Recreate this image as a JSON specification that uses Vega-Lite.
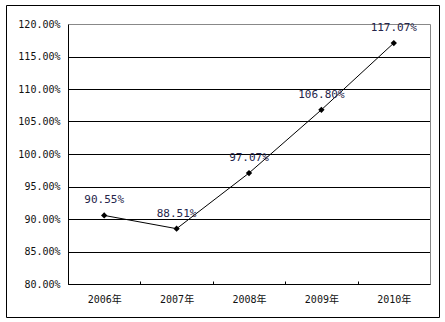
{
  "$schema": "https://vega.github.io/schema/vega-lite/v6.json",
  "width": 433,
  "height": 312,
  "autosize": {"type": "none"},
  "padding": {"left": 6, "top": 5, "right": 6, "bottom": 5},
  "background": "white",
  "config": {
    "view": {"stroke": "black", "strokeWidth": 1},
    "axis": {"labelFont": "DejaVu Sans Mono, Noto Sans CJK SC", "labelFontSize": 10, "labelColor": "#111111"}
  },
  "data": {
    "values": [
      {"year": "2006年", "v": 0.9055},
      {"year": "2007年", "v": 0.8851},
      {"year": "2008年", "v": 0.9707},
      {"year": "2009年", "v": 1.068},
      {"year": "2010年", "v": 1.1707}
    ]
  },
  "encoding": {
    "x": {
      "field": "year", "type": "nominal", "sort": null,
      "scale": {"type": "band", "range": [62, 424], "paddingInner": 0, "paddingOuter": 0},
      "axis": {"orient": "bottom", "offset": -33, "title": null, "labelAngle": 0, "tickBand": "extent", "tickSize": -3, "tickColor": "black", "domainColor": "black", "labelPadding": 13, "grid": false}
    }
  },
  "layer": [
    {
      "mark": {"type": "line", "color": "black", "strokeWidth": 1},
      "encoding": {
        "y": {
          "field": "v", "type": "quantitative",
          "scale": {"domain": [0.8, 1.2], "range": [279, 19], "nice": false, "zero": false},
          "axis": {"orient": "left", "offset": -62, "title": null, "values": [0.8, 0.85, 0.9, 0.95, 1.0, 1.05, 1.1, 1.15, 1.2], "format": ".2%", "ticks": false, "tickSize": 0, "labelPadding": 8, "domainColor": "black", "grid": true, "gridColor": {"condition": {"test": "datum.value >= 1.199", "value": "#888888"}, "value": "black"}, "gridOpacity": 1}
        }
      }
    },
    {
      "mark": {"type": "point", "shape": "diamond", "filled": true, "color": "black", "size": 40, "opacity": 1},
      "encoding": {
        "y": {"field": "v", "type": "quantitative", "axis": null}
      }
    },
    {
      "mark": {"type": "text", "dy": -15, "font": "DejaVu Sans Mono", "fontSize": 11, "color": "#25254a"},
      "encoding": {
        "y": {"field": "v", "type": "quantitative", "axis": {"orient": "right", "offset": -9, "title": null, "labels": false, "ticks": false, "grid": false, "domainColor": "#888888"}},
        "text": {"field": "v", "type": "quantitative", "format": ".2%"}
      }
    }
  ],
  "resolve": {"axis": {"y": "independent"}}
}
